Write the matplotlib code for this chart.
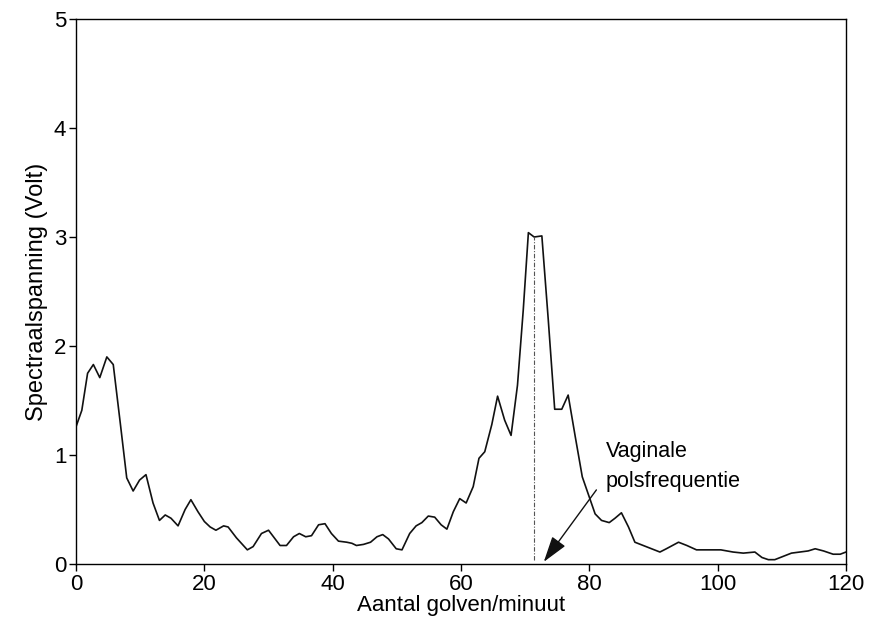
import matplotlib
matplotlib.use("Agg")
import matplotlib.pyplot as plt

plt.rcParams['font.family'] = ['Liberation Sans', 'DejaVu Sans']

# spectrum: waves per minute vs spectral voltage
golven = [0, 0.9, 1.8, 2.7, 3.7, 4.8, 5.8, 6.9, 7.9, 8.9, 9.9, 10.9, 12.0, 13.0,
          13.9, 14.8, 15.9, 17.0, 17.9, 19.0, 20.0, 20.9, 21.8, 23.0, 23.7, 25.0,
          26.7, 27.6, 28.9, 30.0, 31.8, 32.8, 33.9, 34.8, 35.8, 36.7, 37.8, 38.8,
          39.8, 40.9, 42.2, 43.0, 43.7, 44.8, 45.9, 46.9, 47.8, 48.7, 49.9, 50.8,
          52.0, 53.0, 53.9, 54.9, 55.9, 56.9, 57.8, 58.8, 59.8, 60.8, 61.9, 62.8,
          63.7, 64.8, 65.7, 66.8, 67.8, 68.8, 69.7, 70.5, 71.4, 72.6, 73.6, 74.6,
          75.7, 76.7, 77.8, 78.9, 80.9, 81.9, 83.1, 84.0, 85.0, 86.1, 87.1, 88.4,
          89.7, 91.0, 92.0, 93.9, 95.2, 96.7, 98.5, 100.5, 102.4, 104.0, 105.8,
          106.9, 107.9, 108.9, 110.2, 111.5, 112.8, 114.1, 115.2, 116.5, 118.0,
          119.1, 120.0]
spanning = [1.26, 1.41, 1.75, 1.83, 1.71, 1.90, 1.83, 1.29, 0.79, 0.67, 0.77, 0.82,
            0.56, 0.40, 0.45, 0.42, 0.35, 0.50, 0.59, 0.48, 0.39, 0.34, 0.31, 0.35,
            0.34, 0.24, 0.13, 0.16, 0.28, 0.31, 0.17, 0.17, 0.25, 0.28, 0.25, 0.26,
            0.36, 0.37, 0.28, 0.21, 0.20, 0.19, 0.17, 0.18, 0.20, 0.25, 0.27, 0.23,
            0.14, 0.13, 0.28, 0.35, 0.38, 0.44, 0.43, 0.36, 0.32, 0.48, 0.60, 0.56,
            0.71, 0.97, 1.03, 1.28, 1.54, 1.32, 1.18, 1.64, 2.33, 3.04, 3.00, 3.01,
            2.24, 1.42, 1.42, 1.55, 1.17, 0.80, 0.46, 0.40, 0.38, 0.42, 0.47, 0.34,
            0.20, 0.17, 0.14, 0.11, 0.14, 0.20, 0.17, 0.13, 0.13, 0.13, 0.11, 0.10,
            0.11, 0.06, 0.04, 0.04, 0.07, 0.10, 0.11, 0.12, 0.14, 0.12, 0.09, 0.09,
            0.11]

pols_x = 71.4
pols_y = 3.00

fig = plt.figure(figsize=(8.7, 6.29), dpi=100)
ax = fig.add_axes([0.0874, 0.1033, 0.885, 0.8665])

ax.plot(golven, spanning, color='#111111', lw=1.2)
ax.plot([pols_x, pols_x], [0.04, pols_y], color='#555555', lw=0.8,
        linestyle=(0, (4, 1.5, 1, 1.5)))

ax.annotate('', xy=(72.9, 0.02), xytext=(81.1, 0.68),
            arrowprops=dict(arrowstyle='-|>,head_length=1.6,head_width=0.5',
                            color='#111111', lw=1.0, shrinkA=0, shrinkB=0))
ax.text(82.6, 0.98, 'Vaginale', fontsize=15.5, ha='left', va='baseline')
ax.text(82.6, 0.71, 'polsfrequentie', fontsize=15.5, ha='left', va='baseline')

ax.set_xlim(0, 120)
ax.set_ylim(0, 5)
ax.set_xticks(range(0, 121, 20))
ax.set_yticks(range(0, 6))
ax.tick_params(direction='out', length=5, width=1, labelsize=16, pad=2)
for s in ax.spines.values():
    s.set_linewidth(1.0)

ax.set_xlabel('Aantal golven/minuut', fontsize=16, labelpad=0)
ax.set_ylabel('Spectraalspanning (Volt)', fontsize=17, labelpad=4)

fig.savefig('out.png', dpi=100)
